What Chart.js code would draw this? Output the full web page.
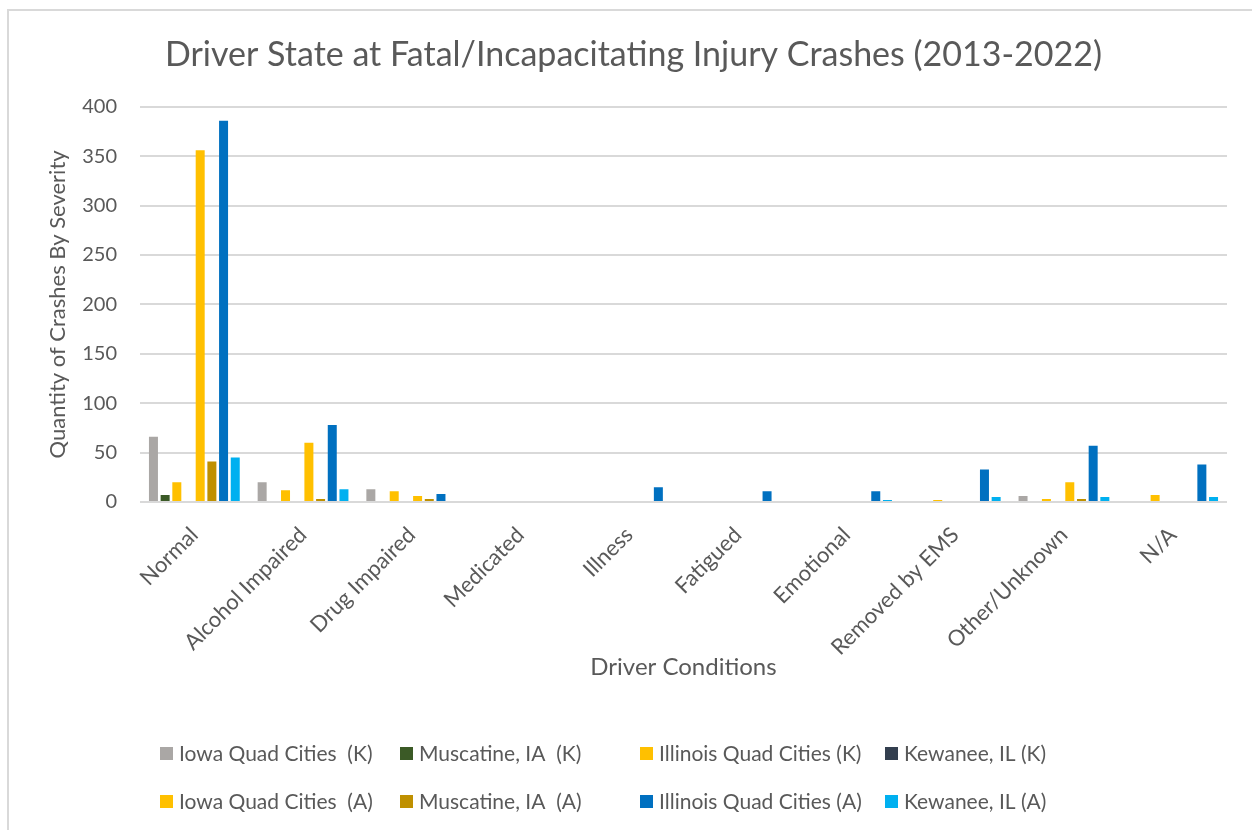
<!DOCTYPE html>
<html>
<head>
<meta charset="utf-8">
<title>Driver State at Fatal/Incapacitating Injury Crashes</title>
<script src="https://cdn.jsdelivr.net/npm/chart.js@4.4.1/dist/chart.umd.min.js"></script>
<style>
  html, body { margin: 0; padding: 0; background: #fff; overflow: hidden; }
  #wrap { position: relative; width: 1252px; height: 830px; }
  #frame {
    position: absolute; left: 7px; top: 9px; width: 2000px; height: 2000px;
    border-top: 2px solid #d9d9d9; border-left: 2px solid #d9d9d9;
    pointer-events: none;
  }
  canvas { position: absolute; left: 0; top: 0; }
</style>
</head>
<body>
<div id="wrap">
  <canvas id="driverStateChart" width="1252" height="830"></canvas>
  <div id="frame"></div>
</div>
<script>
const categories = ['Normal', 'Alcohol Impaired', 'Drug Impaired', 'Medicated', 'Illness',
  'Fatigued', 'Emotional', 'Removed by EMS', 'Other/Unknown', 'N/A'];

const seriesNames = ['Iowa Quad Cities  (K)', 'Muscatine, IA  (K)', 'Illinois Quad Cities (K)', 'Kewanee, IL (K)',
  'Iowa Quad Cities  (A)', 'Muscatine, IA  (A)', 'Illinois Quad Cities (A)', 'Kewanee, IL (A)'];

const iowaK      = [66, 20, 13, 0, 0, 0, 0, 0, 6, 0];
const muscatineK = [7, 0, 0, 0, 0, 0, 0, 0, 0, 0];
const illinoisK  = [20, 12, 11, 0, 0, 0, 0, 2, 3, 7];
const kewaneeK   = [0, 0, 0, 0, 0, 0, 0, 0, 0, 0];
const iowaA      = [356, 60, 6, 0, 0, 0, 0, 0, 20, 0];
const muscatineA = [41, 3, 3, 0, 0, 0, 0, 0, 3, 0];
const illinoisA  = [386, 78, 8, 0, 15, 11, 11, 33, 57, 38];
const kewaneeA   = [45, 13, 0, 0, 0, 0, 2, 5, 5, 5];

const yTicks = [0, 50, 100, 150, 200, 250, 300, 350, 400];

const seriesValues = [iowaK, muscatineK, illinoisK, kewaneeK, iowaA, muscatineA, illinoisA, kewaneeA];
const seriesColors = ['#aaa7a5', '#3b5a26', '#ffc000', '#333f4f', '#ffc000', '#bf9000', '#0070c0', '#00b0f0'];

const textGray = '#595959';
const fontFamily = 'Lato, "Open Sans", sans-serif';

// Excel style legend: fixed grid of 4 columns x 2 rows
const gridLegend = {
    id: 'gridLegend',
    afterDraw(chart) {
        const ctx = chart.ctx;
        const cols = [160, 400, 640, 885];
        const rows = [753, 801];
        ctx.save();
        ctx.font = '21px ' + fontFamily;
        ctx.textBaseline = 'middle';
        ctx.textAlign = 'left';
        chart.data.datasets.forEach(function (ds, i) {
            const x = cols[i % 4];
            const y = rows[Math.floor(i / 4)];
            ctx.fillStyle = ds.backgroundColor;
            ctx.fillRect(x, y - 6, 13, 13);
            ctx.fillStyle = textGray;
            ctx.fillText(ds.label, x + 19, y + 1);
        });
        ctx.restore();
    }
};

const ctxDriver = document.getElementById('driverStateChart').getContext('2d');
const driverChart = new Chart(ctxDriver, {
    type: 'bar',
    data: {
        labels: categories,
        datasets: seriesNames.map(function (name, i) {
            return {
                label: name,
                data: seriesValues[i],
                backgroundColor: seriesColors[i],
                borderWidth: 0,
                categoryPercentage: 0.86,
                barPercentage: 0.77
            };
        })
    },
    options: {
        responsive: false,
        animation: false,
        devicePixelRatio: 1,
        layout: {
            padding: { left: 40, right: 25, top: 0, bottom: 148 }
        },
        plugins: {
            legend: { display: false },
            tooltip: { enabled: false },
            title: {
                display: true,
                text: 'Driver State at Fatal/Incapacitating Injury Crashes (2013-2022)',
                color: textGray,
                font: { family: fontFamily, size: 34, weight: 'normal' },
                padding: { top: 35, bottom: 31 }
            }
        },
        scales: {
            x: {
                grid: { display: false },
                border: { display: false },
                ticks: {
                    color: textGray,
                    font: { family: fontFamily, size: 22 },
                    maxRotation: 45,
                    minRotation: 45,
                    autoSkip: false,
                    padding: 12
                },
                title: {
                    display: true,
                    text: 'Driver Conditions',
                    color: textGray,
                    font: { family: fontFamily, size: 24 },
                    padding: { top: 0, bottom: 0 }
                },
                afterFit: function (scale) { scale.height = 180; }
            },
            y: {
                min: 0,
                max: 400,
                afterBuildTicks: function (scale) {
                    scale.ticks = yTicks.map(function (v) { return { value: v }; });
                },
                grid: { color: '#d9d9d9', lineWidth: 2, drawTicks: false },
                border: { display: false },
                ticks: {
                    color: textGray,
                    font: { family: fontFamily, size: 20 },
                    padding: 23
                },
                title: {
                    display: true,
                    text: 'Quantity of Crashes By Severity',
                    color: textGray,
                    font: { family: fontFamily, size: 22 },
                    padding: { top: 5, bottom: 0 }
                },
                afterFit: function (scale) { scale.width = 100; }
            }
        }
    },
    plugins: [gridLegend]
});
</script>
</body>
</html>
